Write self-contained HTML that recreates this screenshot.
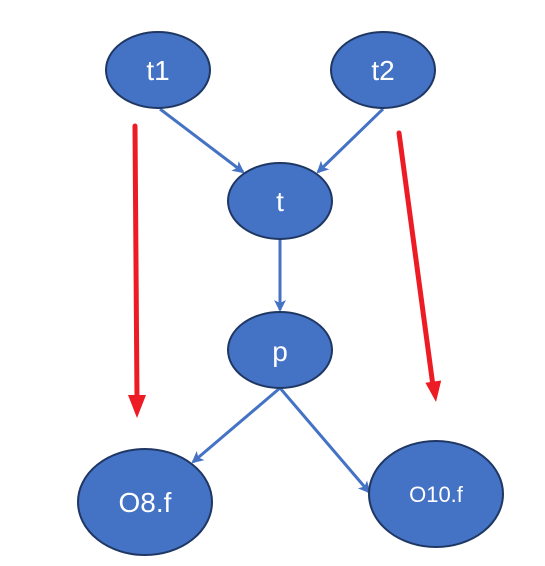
<!DOCTYPE html>
<html><head><meta charset="utf-8"><style>
html,body{margin:0;padding:0;background:#fff;width:545px;height:566px;overflow:hidden}
text{font-family:"Liberation Sans","DejaVu Sans",sans-serif;fill:#fff}
</style></head><body>
<svg width="545" height="566" viewBox="0 0 545 566" xmlns="http://www.w3.org/2000/svg">
<defs>
<marker id="bb" markerWidth="12" markerHeight="12" refX="10" refY="6" orient="auto" markerUnits="userSpaceOnUse">
<path d="M0,0 L12,6 L0,12 L3,6 Z" fill="#4472C4"/>
</marker>
</defs>
<g stroke="#4472C4" stroke-width="3" fill="none">
<line x1="160" y1="109" x2="243" y2="172" marker-end="url(#bb)"/>
<line x1="383" y1="109" x2="318" y2="172" marker-end="url(#bb)"/>
<line x1="280" y1="239" x2="280" y2="310" marker-end="url(#bb)"/>
<line x1="280" y1="388" x2="193" y2="462" marker-end="url(#bb)"/>
<line x1="280" y1="388" x2="369" y2="492" marker-end="url(#bb)"/>
</g>
<g stroke="#ED1C24" stroke-width="5" fill="none" stroke-linecap="round">
<line x1="135" y1="126" x2="137" y2="400"/>
<line x1="399" y1="133" x2="433" y2="386"/>
</g>
<g fill="#ED1C24">
<polygon points="137,418 128,395 146,395"/>
<polygon points="436,402 441.2,380.5 425.4,382.7"/>
</g>
<g fill="#4472C4" stroke="#1F3763" stroke-width="2">
<ellipse cx="158" cy="70" rx="52" ry="38"/>
<ellipse cx="383" cy="70" rx="52" ry="38"/>
<ellipse cx="280" cy="201" rx="52" ry="38"/>
<ellipse cx="280" cy="350" rx="52" ry="38"/>
<ellipse cx="145" cy="502" rx="67" ry="53"/>
<ellipse cx="436" cy="494" rx="67" ry="53"/>
</g>
<g text-anchor="middle" font-size="28">
<text x="158" y="80">t1</text>
<text x="383" y="80">t2</text>
<text x="280" y="211">t</text>
<text x="280" y="361">p</text>
<text x="145" y="512">O8.f</text>
<text x="436" y="502" font-size="22">O10.f</text>
</g>
</svg>
</body></html>
